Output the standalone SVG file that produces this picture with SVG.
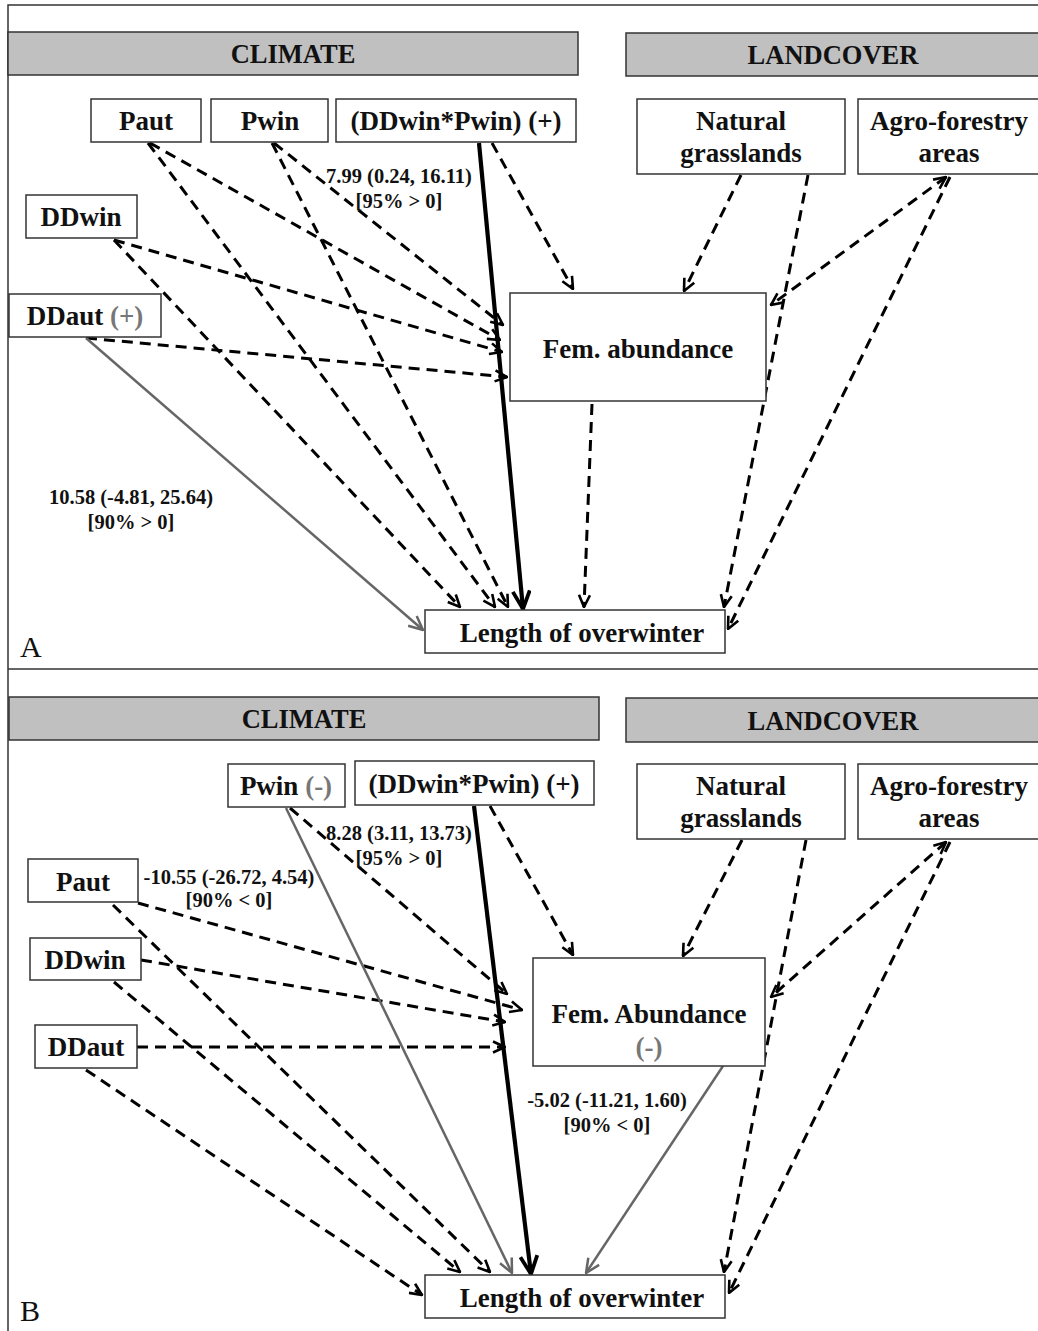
<svg xmlns="http://www.w3.org/2000/svg" width="1038" height="1331" viewBox="0 0 1038 1331">
  <style>
    .box { fill: #fff; stroke: #333; stroke-width: 1.5; }
    .hdr { fill: #c0c0c0; stroke: #333; stroke-width: 1.5; }
    .t { font-family: "Liberation Serif", "Times New Roman", serif; font-weight: bold; font-size: 27px; text-anchor: middle; fill: #111; }
    .h { font-size: 26.5px; }
    .lbl { font-size: 20.5px; }
    .gr { fill: #777; }
    .d { fill: none; stroke: #000; stroke-width: 3; stroke-dasharray: 11 7; marker-end: url(#ah); }
    .g { fill: none; stroke: #666; stroke-width: 2.5; marker-end: url(#agray); }
    .k { fill: none; stroke: #000; stroke-width: 4.2; marker-end: url(#ak); }
    .both { marker-start: url(#ah); }
    .frame { fill: none; stroke: #333; stroke-width: 1.5; }
    .panel { font-family: "Liberation Serif", "Times New Roman", serif; font-size: 30px; fill: #111; }
  </style>
  <defs>
    <marker id="ah" viewBox="0 0 14 14" refX="13" refY="7" markerWidth="14" markerHeight="14" markerUnits="userSpaceOnUse" orient="auto-start-reverse">
      <path d="M1,1.5 L13,7 L1,12.5" fill="none" stroke="#000" stroke-width="2.6" stroke-dasharray="none"/>
    </marker>
    <marker id="agray" viewBox="0 0 16 16" refX="15" refY="8" markerWidth="16" markerHeight="16" markerUnits="userSpaceOnUse" orient="auto">
      <path d="M1,1.5 L15,8 L1,14.5" fill="none" stroke="#666" stroke-width="2.5"/>
    </marker>
    <marker id="ak" viewBox="0 0 20 20" refX="19" refY="10" markerWidth="20" markerHeight="20" markerUnits="userSpaceOnUse" orient="auto">
      <path d="M1,1.5 L19,10 L1,18.5" fill="none" stroke="#000" stroke-width="3.8"/>
    </marker>
  </defs>

  <!-- outer frame and panel divider -->
  <g id="frame">
    <path class="frame" d="M8,1331 V5 H1038 M8,669 H1038"/>
    <text class="panel" x="20" y="657">A</text>
    <text class="panel" x="20" y="1321">B</text>
  </g>

  <!-- ===== Panel A ===== -->
  <g id="a-connectors">
    <!-- climate to Fem. abundance -->
    <line class="d" x1="274" y1="143" x2="503" y2="325"/>
    <line class="d" x1="150" y1="143" x2="500" y2="340"/>
    <line class="d" x1="114" y1="240" x2="502" y2="352"/>
    <line class="d" x1="86" y1="338" x2="507" y2="377"/>
    <line class="d" x1="492" y1="143" x2="573" y2="289"/>
    <!-- climate to Length of overwinter -->
    <line class="d" x1="114" y1="240" x2="460" y2="607"/>
    <line class="d" x1="148" y1="143" x2="495" y2="607"/>
    <line class="d" x1="272" y1="143" x2="508" y2="607"/>
    <line class="k" x1="479" y1="143" x2="523" y2="609"/>
    <line class="g" x1="86" y1="338" x2="423" y2="630"/>
    <!-- landcover -->
    <line class="d" x1="741" y1="175" x2="684" y2="291"/>
    <line class="d" x1="808" y1="175" x2="724" y2="607"/>
    <line class="d both" x1="946" y1="177" x2="771" y2="305"/>
    <line class="d" x1="950" y1="177" x2="728" y2="629"/>
    <!-- Fem. abundance to Length -->
    <line class="d" x1="592" y1="404" x2="584" y2="607"/>
  </g>
  <g id="a-labels">
    <text class="t lbl" x="399" y="183">7.99 (0.24, 16.11)</text>
    <text class="t lbl" x="399" y="208">[95% &gt; 0]</text>
    <text class="t lbl" x="131" y="504">10.58 (-4.81, 25.64)</text>
    <text class="t lbl" x="131" y="529">[90% &gt; 0]</text>
  </g>

  <g id="a-climate">
    <rect class="hdr" x="8" y="32" width="570" height="43"/>
    <text class="t h" x="293" y="63">CLIMATE</text>
  </g>
  <g id="a-landcover">
    <rect class="hdr" x="626" y="33" width="420" height="43"/>
    <text class="t h" x="833" y="64">LANDCOVER</text>
  </g>
  <g id="a-paut">
    <rect class="box" x="91" y="99" width="110" height="43"/>
    <text class="t" x="146" y="130">Paut</text>
  </g>
  <g id="a-pwin">
    <rect class="box" x="211" y="99" width="117" height="43"/>
    <text class="t" x="270" y="130">Pwin</text>
  </g>
  <g id="a-ddwinpwin">
    <rect class="box" x="336" y="99" width="240" height="43"/>
    <text class="t" x="456" y="130">(DDwin*Pwin) (+)</text>
  </g>
  <g id="a-grasslands">
    <rect class="box" x="637" y="99" width="208" height="75"/>
    <text class="t" x="741" y="130">Natural</text>
    <text class="t" x="741" y="162">grasslands</text>
  </g>
  <g id="a-agroforestry">
    <rect class="box" x="858" y="99" width="190" height="75"/>
    <text class="t" x="949" y="130">Agro-forestry</text>
    <text class="t" x="949" y="162">areas</text>
  </g>
  <g id="a-ddwin">
    <rect class="box" x="26" y="195" width="111" height="43"/>
    <text class="t" x="81" y="226">DDwin</text>
  </g>
  <g id="a-ddaut">
    <rect class="box" x="9" y="294" width="152" height="43"/>
    <text class="t" x="85" y="325">DDaut <tspan class="gr">(+)</tspan></text>
  </g>
  <g id="a-fem">
    <rect class="box" x="510" y="293" width="256" height="108"/>
    <text class="t" x="638" y="358">Fem. abundance</text>
  </g>
  <g id="a-length">
    <rect class="box" x="425" y="610" width="300" height="43"/>
    <text class="t" x="582" y="642">Length of overwinter</text>
  </g>

  <!-- ===== Panel B ===== -->
  <g id="b-connectors">
    <!-- climate to Fem. Abundance -->
    <line class="d" x1="290" y1="808" x2="507" y2="994"/>
    <line class="d" x1="138" y1="903" x2="522" y2="1010"/>
    <line class="d" x1="141" y1="960" x2="505" y2="1022"/>
    <line class="d" x1="137" y1="1047" x2="505" y2="1047"/>
    <line class="d" x1="490" y1="806" x2="573" y2="955"/>
    <!-- climate to Length of overwinter -->
    <line class="d" x1="113" y1="905" x2="490" y2="1272"/>
    <line class="d" x1="114" y1="982" x2="460" y2="1272"/>
    <line class="d" x1="86" y1="1070" x2="422" y2="1295"/>
    <line class="g" x1="286" y1="808" x2="512" y2="1273"/>
    <line class="k" x1="474" y1="806" x2="531" y2="1274"/>
    <!-- landcover -->
    <line class="d" x1="742" y1="840" x2="683" y2="956"/>
    <line class="d" x1="806" y1="840" x2="724" y2="1272"/>
    <line class="d both" x1="946" y1="842" x2="771" y2="997"/>
    <line class="d" x1="950" y1="842" x2="729" y2="1293"/>
    <!-- Fem. Abundance to Length -->
    <line class="g" x1="723" y1="1066" x2="586" y2="1273"/>
  </g>
  <g id="b-labels">
    <text class="t lbl" x="399" y="840">8.28 (3.11, 13.73)</text>
    <text class="t lbl" x="399" y="865">[95% &gt; 0]</text>
    <text class="t lbl" x="229" y="884">-10.55 (-26.72, 4.54)</text>
    <text class="t lbl" x="229" y="907">[90% &lt; 0]</text>
    <text class="t lbl" x="607" y="1107">-5.02 (-11.21, 1.60)</text>
    <text class="t lbl" x="607" y="1132">[90% &lt; 0]</text>
  </g>

  <g id="b-climate">
    <rect class="hdr" x="9" y="697" width="590" height="43"/>
    <text class="t h" x="304" y="728">CLIMATE</text>
  </g>
  <g id="b-landcover">
    <rect class="hdr" x="626" y="698" width="420" height="44"/>
    <text class="t h" x="833" y="730">LANDCOVER</text>
  </g>
  <g id="b-pwin">
    <rect class="box" x="228" y="764" width="117" height="43"/>
    <text class="t" x="286" y="795">Pwin <tspan class="gr">(-)</tspan></text>
  </g>
  <g id="b-ddwinpwin">
    <rect class="box" x="355" y="761" width="239" height="44"/>
    <text class="t" x="474" y="793">(DDwin*Pwin) (+)</text>
  </g>
  <g id="b-grasslands">
    <rect class="box" x="637" y="764" width="208" height="75"/>
    <text class="t" x="741" y="795">Natural</text>
    <text class="t" x="741" y="827">grasslands</text>
  </g>
  <g id="b-agroforestry">
    <rect class="box" x="858" y="764" width="190" height="75"/>
    <text class="t" x="949" y="795">Agro-forestry</text>
    <text class="t" x="949" y="827">areas</text>
  </g>
  <g id="b-paut">
    <rect class="box" x="28" y="859" width="110" height="43"/>
    <text class="t" x="83" y="891">Paut</text>
  </g>
  <g id="b-ddwin">
    <rect class="box" x="30" y="938" width="111" height="42"/>
    <text class="t" x="85" y="969">DDwin</text>
  </g>
  <g id="b-ddaut">
    <rect class="box" x="35" y="1025" width="102" height="43"/>
    <text class="t" x="86" y="1056">DDaut</text>
  </g>
  <g id="b-fem">
    <rect class="box" x="533" y="958" width="232" height="108"/>
    <text class="t" x="649" y="1023">Fem. Abundance</text>
    <text class="t gr" x="649" y="1056">(-)</text>
  </g>
  <g id="b-length">
    <rect class="box" x="425" y="1275" width="300" height="43"/>
    <text class="t" x="582" y="1307">Length of overwinter</text>
  </g>
</svg>
